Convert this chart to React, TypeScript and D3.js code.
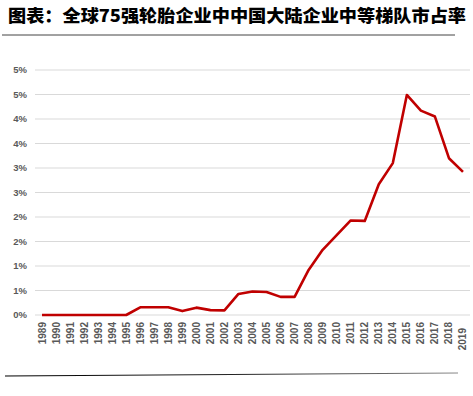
import React from "react";
import * as d3 from "d3";

const years: string[] = d3.range(1989, 2020).map(String);
const shares: number[] = [
  0, 0, 0, 0, 0, 0, 0, 0.157, 0.157, 0.157, 0.08, 0.15, 0.10, 0.095, 0.43,
  0.48, 0.47, 0.37, 0.37, 0.92, 1.33, 1.63, 1.93, 1.92, 2.67, 3.10, 4.49,
  4.17, 4.05, 3.20, 2.92,
];
const yTicks: number[] = [0, 0.5, 1, 1.5, 2, 2.5, 3, 3.5, 4, 4.5, 5];
const yTickLabels: string[] = ["0%", "1%", "1%", "2%", "2%", "3%", "3%", "4%", "4%", "5%", "5%"];
const title = "图表：全球75强轮胎企业中中国大陆企业中等梯队市占率";

export default function App() {
  const W = 473, H = 396;
  const left = 35, right = 470, top = 70, bottom = 315;
  const x = d3.scaleBand<string>().domain(years).range([left, right]);
  const y = d3.scaleLinear().domain([0, 5]).range([bottom, top]);
  const cx = (d: string) => (x(d) as number) + x.bandwidth() / 2;
  const line = d3
    .line<number>()
    .x((_, i) => cx(years[i]))
    .y((d) => y(d));
  return (
    <svg
      width={W}
      height={H}
      style={{ position: "absolute", left: 0, top: 0, background: "#fff" }}
    >
      <defs>
        <linearGradient id="bl" x1="0" x2="1" y1="0" y2="0">
          <stop offset="0" stopColor="#000" />
          <stop offset="0.5" stopColor="#222" />
          <stop offset="1" stopColor="#888" />
        </linearGradient>
      </defs>
      <text
        x={8}
        y={22}
        fontFamily="'Noto Sans CJK SC', sans-serif"
        fontWeight={900}
        fontSize={17.5}
        fill="#000"
        textLength={458}
        lengthAdjust="spacingAndGlyphs"
      >
        {title}
      </text>
      <line x1={2} x2={455} y1={35} y2={35} stroke="#444" strokeWidth={1} />
      {yTicks.map((t, i) => (
        <g key={t}>
          <line x1={left} x2={right} y1={y(t)} y2={y(t)} stroke="#d9d9d9" strokeWidth={1} />
          <text
            x={27}
            y={y(t)}
            dy="0.35em"
            textAnchor="end"
            fontFamily="'Liberation Sans', Arial, sans-serif"
            fontWeight={700}
            fontSize={9.5}
            fill="#595959"
          >
            {yTickLabels[i]}
          </text>
        </g>
      ))}
      <path
        d={line(shares) || ""}
        fill="none"
        stroke="#C00000"
        strokeWidth={2.6}
        strokeLinejoin="round"
      />
      {years.map((yr, i) => (
        <text
          key={yr}
          transform={`translate(${cx(yr)},${i === years.length - 1 ? 328 : 322}) rotate(-90)`}
          dy="0.35em"
          textAnchor="end"
          fontFamily="'Liberation Sans', Arial, sans-serif"
          fontWeight={700}
          fontSize={10}
          fill="#595959"
        >
          {yr}
        </text>
      ))}
      <line x1={5} x2={458} y1={376} y2={373} stroke="url(#bl)" strokeWidth={1.2} />
    </svg>
  );
}
